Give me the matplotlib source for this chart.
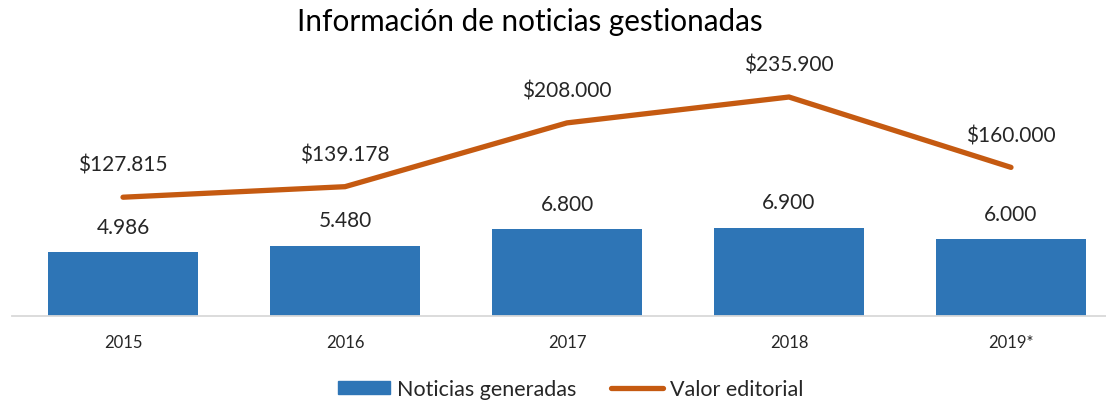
import numpy as np
import matplotlib
matplotlib.use("Agg")
import matplotlib.pyplot as plt
from matplotlib.patches import Patch
from matplotlib.lines import Line2D

plt.rcParams['font.family'] = ['Lato', 'DejaVu Sans']

years = ["2015", "2016", "2017", "2018", "2019*"]
noticias = [4986, 5480, 6800, 6900, 6000]
valor = [127815, 139178, 208000, 235900, 160000]

bar_color = "#2E75B6"
line_color = "#C55A11"
text_color = "#262626"

def fmt_miles(v):
    return f"{v:,}".replace(",", ".")

fig = plt.figure(figsize=(11.06, 4.02), dpi=100)
W, H = 1106, 402
ax = fig.add_axes([12 / W, (H - 316.7) / H, 1110 / W, 276.7 / H])
ax2 = ax.twinx()

x = np.arange(len(years))
ax.bar(x, noticias, width=0.68, color=bar_color, zorder=2)
ax2.plot(x, valor, color=line_color, linewidth=3.8, solid_capstyle="round",
         solid_joinstyle="miter", zorder=3)

ax.set_xlim(-0.5, len(years) - 0.5)
ax.set_ylim(0, 276.7 / 0.01278)
ax2.set_ylim(0, 276.7 / 0.000927)

# etiquetas de datos
for xi, v in zip(x, noticias):
    ax.annotate(fmt_miles(v), (xi, v), xytext=(0, 11), textcoords="offset points",
                ha="center", va="bottom", fontsize=15, color=text_color)
for xi, v in zip(x, valor):
    ax2.annotate("$" + fmt_miles(v), (xi, v), xytext=(0, 16), textcoords="offset points",
                 ha="center", va="bottom", fontsize=15, color=text_color)

for a in (ax, ax2):
    for s in ("top", "right", "left"):
        a.spines[s].set_visible(False)
    a.set_yticks([])
ax2.spines["bottom"].set_visible(False)
ax.spines["bottom"].set_color("#D9D9D9")
ax.spines["bottom"].set_linewidth(1.3)
ax.set_xticks(x)
ax.set_xticklabels(years, fontsize=12, color=text_color)
ax.tick_params(axis="x", length=0, pad=13)

fig.text(0.479, 0.945, "Información de noticias gestionadas", ha="center", va="center",
         fontsize=21.3, color="#000000")

handles = [Patch(color=bar_color, label="Noticias generadas"),
           Line2D([0], [0], color=line_color, linewidth=3.8, solid_capstyle="round",
                  label="Valor editorial")]
fig.legend(handles=handles, loc="center", bbox_to_anchor=(0.516, 0.03), ncol=2,
           frameon=False, fontsize=15.5, handlelength=2.4, handleheight=0.6,
           handletextpad=0.35, columnspacing=1.6, labelcolor=text_color)

fig.savefig("out.png", dpi=100)
